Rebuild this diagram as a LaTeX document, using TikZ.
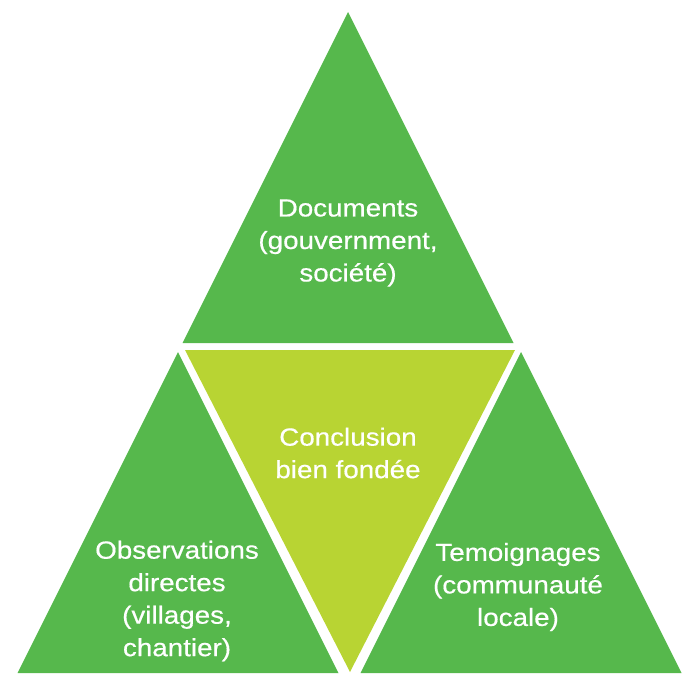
\documentclass[tikz,border=0pt]{standalone}
\usepackage{fontspec}
\setmainfont{Liberation Sans}[FakeStretch=1.12,FakeBold=0.5]
\definecolor{leafgreen}{RGB}{86,184,76}
\definecolor{limegreen}{RGB}{184,212,51}
\begin{document}
\begin{tikzpicture}[x=1pt,y=-1pt,
  tri/.style={fill=leafgreen,draw=none},
  mid/.style={fill=limegreen,draw=none},
  lbl/.style={text=white,align=center,font=\fontsize{24.8}{32.5}\selectfont,inner sep=0pt}]
\useasboundingbox (0,0) rectangle (691,675);
% triangles
\fill[tri] (348,12) -- (513.5,343) -- (182.5,343) -- cycle;
\fill[tri] (178,352) -- (338.5,673) -- (17.5,673) -- cycle;
\fill[tri] (521,352) -- (681.5,673) -- (360.5,673) -- cycle;
\fill[mid] (185,350) -- (515,350) -- (350,672) -- cycle;
% labels
\node[lbl] (docs) at (348,243) {Documents\\(gouvernment,\\société)};
\node[lbl] (concl) at (348,453) {Conclusion\\bien fondée};
\node[lbl] (obs) at (177,601) {Observations\\directes\\(villages,\\chantier)};
\node[lbl] (temo) at (518,587) {Temoignages\\(communauté\\locale)};
\end{tikzpicture}
\end{document}
